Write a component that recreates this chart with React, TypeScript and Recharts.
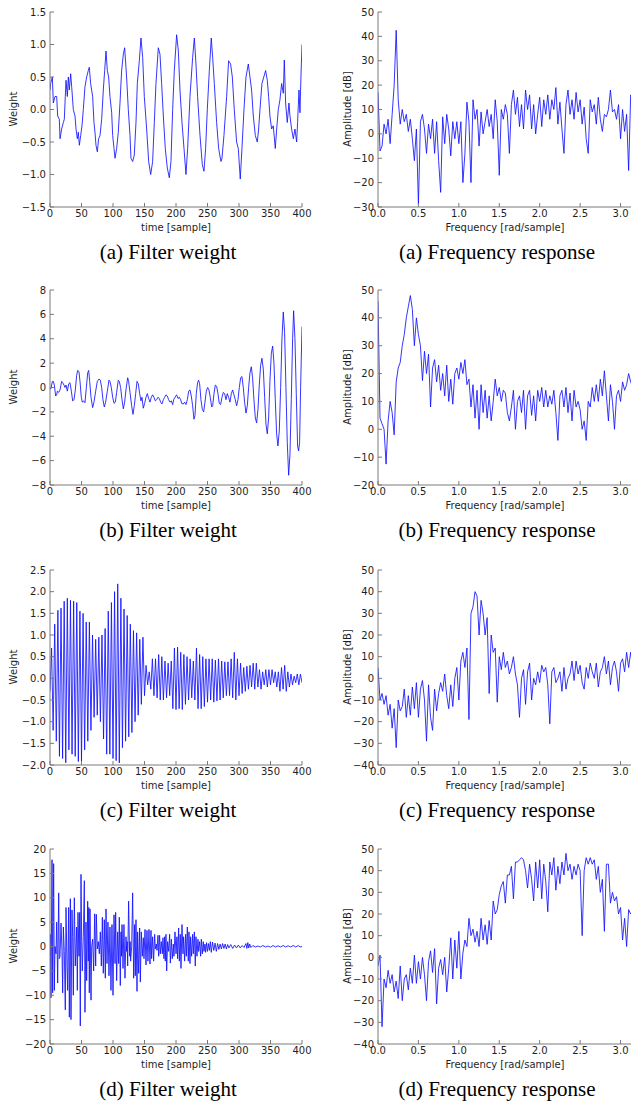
import React from 'react';
import { LineChart, Line, XAxis, YAxis } from 'recharts';

// ---------- shared axes ----------
const TIME_TICKS = [0, 50, 100, 150, 200, 250, 300, 350, 400];
const FREQ_TICKS = [0, 0.5, 1, 1.5, 2, 2.5, 3];
const W_TICKS_A = [-1.5, -1, -0.5, 0, 0.5, 1, 1.5];
const W_TICKS_B = [-8, -6, -4, -2, 0, 2, 4, 6, 8];
const W_TICKS_C = [-2, -1.5, -1, -0.5, 0, 0.5, 1, 1.5, 2, 2.5];
const W_TICKS_D = [-20, -15, -10, -5, 0, 5, 10, 15, 20];
const DB_TICKS_A = [-30, -20, -10, 0, 10, 20, 30, 40, 50];
const DB_TICKS_B = [-20, -10, 0, 10, 20, 30, 40, 50];
const DB_TICKS_CD = [-40, -30, -20, -10, 0, 10, 20, 30, 40, 50];

const CAPTION_LETTERS = ['(a)', '(b)', '(c)', '(d)'];

// ---------- (a) filter weight ----------
const aTime = [0,1,3.7,5.3,7.9,10.6,12.2,14.8,15.9,18.5,21.2,22.7,24.3,25.4,27.5,29.1,30.7,32.8,34.4,37,39.7,41.3,43.4,45,46.6,48.7,50.8,52.9,55.5,58.2,60.8,62.4,64.5,67.7,69.8,71.4,73,75.1,77.2,79.4,82,84.6,86.8,88.9,91,93.1,95.2,97.9,99.5,101.6,103.2,105.8,108.4,111.1,113.7,116.4,118.5,121.6,124.3,127,128.5,131.2,133.8,136.5,138.6,141.8,144.4,147.1,149.7,153.4,156.6,159.8,162.9,165.6,168.2,171.9,174.6,177.2,179.9,183,186.2,189.4,192,194.7,197.3,201,203.7,206.3,209.5,212.7,215.8,218.5,222.2,226.4,229.1,231.7,234.3,238.1,241.8,244.4,247,249.7,252.9,256,258.2,260.8,264.5,267.7,271.4,273,276.1,280.4,283.5,286.7,289.4,292.5,296.2,298.9,302,304.7,307.9,311.1,314.8,317.4,320,322.7,325.9,329,331.2,333.3,336.4,342.3,344.9,347,349.1,351.8,354.4,357.6,359.8,362.4,365,367.7,370.3,371.9,374,376.6,379.3,380.9,383.5,386.2,388.8,391.5,393,395.2,396.8,398.3,400];
const aWeight = [0.3,0.4,0.5,0.1,0.2,0.2,-0.1,-0.15,-0.45,-0.3,-0.2,-0.15,0.2,0.45,0.2,0.5,0.3,0.55,0.35,0,-0.1,-0.3,-0.45,-0.35,-0.55,-0.4,-0.25,0,0.35,0.5,0.6,0.65,0.4,0.2,-0.2,-0.35,-0.55,-0.65,-0.45,-0.4,-0.15,0.3,0.6,0.9,0.6,0.5,0.2,-0.05,-0.4,-0.6,-0.75,-0.6,-0.35,0.1,0.6,0.85,0.95,0.5,0,-0.4,-0.75,-0.8,-0.7,-0.2,0.4,0.75,1.1,0.8,0.2,-0.3,-0.8,-1,-0.8,-0.2,0.4,0.95,0.85,0.4,-0.1,-0.6,-0.9,-1.05,-0.8,0,0.6,1.15,0.9,0.3,-0.2,-0.6,-1,-0.6,0.2,0.8,1.1,0.7,0.2,-0.4,-0.85,-0.95,-0.6,0,0.6,1.1,0.8,0.4,-0.2,-0.6,-0.8,-0.75,-0.4,0.2,0.75,0.7,0.5,0,-0.5,-0.6,-1.07,-0.6,0,0.5,0.7,0.5,0.3,-0.1,-0.4,-0.5,-0.3,0,0.4,0.6,0.45,0.2,-0.1,-0.3,-0.25,-0.6,-0.3,0,0.15,0.4,0.25,0.76,0.1,-0.2,0.1,-0.1,-0.3,-0.45,-0.3,-0.5,-0.2,0.3,-0.05,0.5,1];

// ---------- (b) filter weight ----------
const bTime = [0,1.6,3.7,5.3,6.9,9,10.6,11.6,13.8,15.9,18.5,20.1,22.2,23.8,25.4,27.5,29.6,31.7,33.9,36,38.1,40.2,42.3,43.9,46,47.6,49.7,51.3,53.4,55.5,57.7,59.8,61.4,63,65.1,67.7,69.8,72.5,75.1,77.8,79.9,82,84.1,86.2,88.3,91,93.6,95.2,97.3,99.5,101.6,103.7,105.8,108.4,110,112.1,114.3,116.4,118.5,120.6,123.3,124.8,127,129.6,131.7,133.8,136,138.1,140.2,142.3,144.4,146,148.1,150.2,152.4,154.5,156.6,158.7,160.8,162.9,165,167.2,169.3,171.4,173.5,175.6,177.7,179.9,182,184.1,186.2,188.3,190.4,192.6,194.7,196.3,198.4,201,203.1,205.3,207.4,209,211.6,213.7,215.8,218,220.1,222.2,224.3,226.4,228.5,230.1,232.2,234.3,235.9,237.5,239.6,241.8,243.9,246,248.1,250.2,252.3,254.4,256.6,258.2,260.3,262.4,264.5,266.6,268.7,270.8,273,275.1,277.2,279.3,281.4,283.5,285.7,287.8,289.9,292,294.1,296.2,298.4,300.5,302.6,304.7,306.8,308.9,311.1,313.2,315.3,317.4,319.5,321.6,323.7,325.9,328,330.1,332.2,334.3,336.4,338.6,340.7,342.8,344.9,347,349.1,351.3,353.4,355.5,357.6,359.7,361.8,364,366.1,368.2,370.3,372.4,374.5,376.6,378.8,380.9,383,385.1,386.7,388.8,390.9,393,394.6,396.2,397.8,400];
const bWeight = [-0.1,-0.1,0.5,0.5,0.2,-0.7,-0.6,-0.3,-0.4,-0.2,0.5,0.4,0.2,0,0.2,-0.3,0.3,0.4,-0.3,-1.1,-1,-0.2,1,1.4,1.3,0.5,-0.8,-1.2,-1.1,-1.25,0,1.2,1.4,0.5,-0.8,-1.65,-1.2,-0.3,0.5,0.7,0.6,0,-1,-1.6,-1.2,-0.3,0.6,0.5,0,-0.8,-1.3,-1.2,-0.4,0.6,0.5,0,-1,-1.75,-1.2,-0.2,0.8,0.5,-0.4,-1.5,-2.2,-1.5,-0.5,0.5,0.3,-0.5,-1.1,-0.8,-1.7,-1.3,-0.8,-0.5,-0.9,-1.2,-0.8,-0.6,-0.8,-1.1,-1,-0.8,-0.9,-1.2,-1.35,-1,-0.8,-0.6,-0.7,-1,-1.2,-1.1,-1.4,-1,-0.8,-0.6,-0.9,-0.8,-1,-1.3,-1.35,-1.2,-1.4,-1,-0.3,-0.2,-0.7,-1.5,-2.6,-2.3,-0.5,0.4,0.6,0.3,-1,-1.8,-2,-1.2,-0.3,0,-0.2,-0.8,-1.6,-1.5,-0.5,0.2,0.1,-0.5,-1.3,-1.4,-0.8,-0.4,-0.5,-1,-0.5,-0.8,-1.2,-0.5,-0.2,-0.6,-1,-1.5,-1,0,0.8,0.9,0,-1.2,-2.1,-1.5,0,1.2,1.7,0.8,-1,-2.5,-2.9,-1.8,0.2,1.8,2.4,1.5,-0.8,-3,-3.8,-2.5,0.5,2.8,3.4,2,-1,-3.8,-4.8,-3.5,0,4,6.2,4.5,0,-4.5,-7.2,-5.5,-1,4,6.3,4,-0.5,-4.8,-5.2,-4.5,0,5];

// ---------- (c) filter weight ----------
const cTime = [0,2.5,5,7.5,10,12.5,15,17.5,20,22.5,25,27.5,30,32.5,35,37.5,40,42.5,45,47.5,
50,52.5,55,57.5,60,62.5,65,67.5,70,72.5,75,77.5,80,82.5,85,87.5,90,92.5,95,97.5,
100,102.5,105,107.5,110,112.5,115,117.5,120,122.5,125,127.5,130,132.5,135,137.5,140,142.5,145,147.5,
150,152.5,155,157.5,160,162.5,165,167.5,170,172.5,175,177.5,180,182.5,185,187.5,190,192.5,195,197.5,
200,202.5,205,207.5,210,212.5,215,217.5,220,222.5,225,227.5,230,232.5,235,237.5,240,242.5,245,247.5,
250,252.5,255,257.5,260,262.5,265,267.5,270,272.5,275,277.5,280,282.5,285,287.5,290,292.5,295,297.5,
300,302.5,305,307.5,310,312.5,315,317.5,320,322.5,325,327.5,330,332.5,335,337.5,340,342.5,345,347.5,
350,352.5,355,357.5,360,362.5,365,367.5,370,372.5,375,377.5,380,382.5,385,387.5,390,392.5,395,397.5,400];
const cWeight = [-0.3,
0.7,-1.2,1.25,-1.45,1.57,-1.8,1.62,-1.85,1.78,-1.95,1.85,-1.65,1.8,-1.75,1.78,-1.8,1.75,-1.92,1.55,-1.92,
1.5,-1.65,1.3,-1.45,1.3,-1.2,1,-0.9,0.9,-0.85,0.95,-1,1,-1.4,1.15,-1.75,1.55,-1.75,1.75,-1.85,
2,-1.9,2.18,-1.95,1.85,-1.6,1.6,-1.45,1.45,-1.35,1.25,-1.25,1.1,-1,1.05,-0.85,0.9,-0.6,0.95,-0.4,
0.3,-0.15,0.15,-0.25,0.45,-0.4,0.45,-0.45,0.55,-0.5,0.5,-0.5,0.4,-0.45,0.35,-0.4,0.4,-0.7,0.7,-0.72,
0.72,-0.7,0.6,-0.72,0.55,-0.6,0.5,-0.5,0.45,-0.45,0.4,-0.5,0.7,-0.7,0.55,-0.7,0.5,-0.65,0.45,-0.55,
0.45,-0.5,0.45,-0.55,0.42,-0.52,0.45,-0.5,0.4,-0.45,0.38,-0.4,0.38,-0.4,0.45,-0.45,0.6,-0.5,0.45,-0.4,
0.35,-0.35,0.25,-0.3,0.28,-0.25,0.3,-0.2,0.35,-0.25,0.35,-0.2,0.2,-0.25,0.15,-0.15,0.2,-0.2,0.2,-0.15,
0.2,-0.1,0.15,-0.2,0.15,-0.3,0.25,-0.25,0.3,-0.3,0.15,-0.2,0.1,-0.15,0.05,-0.1,0.1,-0.15,0.1,-0.1];

// ---------- (d) filter weight ----------
const dTime = [0,0.5,1.6,3.2,4.2,5.8,6.9,7.9,9.5,10.6,
12.2,13.8,14.8,15.9,17.5,19,20.1,21.2,22.7,24.3,
25.4,27,28,29.6,30.7,32.3,33.3,34.9,36,37,
38.6,40.2,42.3,43.4,44.4,46,47.1,48.1,49.2,50.3,
51.3,52.9,54.5,55.5,57.1,58.2,59.8,60.8,61.6,62.4,
63.5,65.1,66.1,67.7,69.3,70.9,72.5,73.5,75.1,76.7,
78.3,79.9,81.5,83.1,84.6,86.2,87.8,88.9,90.5,92,
93.6,95.2,96.8,98.4,100,101.6,103.2,104.2,105.8,107.4,
109,110,111.6,112.7,113.5,114.3,115.9,117.4,119,120.6,
121.7,122.5,123.3,124.8,126.4,127.2,128,129.6,131.2,132.8,
134.4,135.4,136.5,138.1,139.1,140.7,142.3,143.4,144.9,146.5,
148.1,149.2,150.8,152.4,153.9,155.5,157.1,158.7,160.3,161.3,
162.9,164.5,166.1,167.2,168.8,169.8,171.4,172.5,174,175.1,
176.7,178.3,179.3,180.9,182,183,184.1,185.2,186.7,188.3,
189.9,191,192.6,194.1,195.7,196.8,198.4,200,201.5,202.6,
204.2,205.3,206.8,207.9,209.5,211.1,212.1,213.7,215.3,216.4,
218,219.5,220.6,222.2,223.2,224.8,226.4,227.5,229.1,230.6,
231.7,233.3,234.9,235.9,237.5,239.1,240.2,241.8,243.3,244.4,
246,247,248.5,250,251.5,253,254.5,256,258,260,
262,264,266,268,270,272,274,276,278,280,
282,284,287,290,293,296,299,302,305,308,
311,312.5,314,315.5,317,319,322,326,330,334,
338,342,346,350,354,358,362,366,370,374,
378,382,386,390,394,397,400];
const dWeight = [0,2.5,-10.5,17.8,-9.5,17,-9,0,-1.5,5,
-7.5,11,-2.5,-2,4.8,-1,-9.5,4,-1,-13,
8,-4,-9,8,-14.5,9.8,-15,7.5,2,-10,
10,-4,4,-9,7,-2,7,-16.3,14.8,1,
-5,2,13.5,-13.5,5,-7,9.3,-3,8,-9.5,
7.7,-11,0,1.5,-5,6.7,-4,6.6,-0.5,1,
-1.5,3,-4,6,-5.5,5.5,-6.5,7.7,-3.5,5,
-6,4,-9,4.5,-10,6.5,-3.5,7,-7,3,
-3.5,6,-8,3,-2,4.5,-4.5,4.5,-6.5,2,
-1,1,-4,9.3,-2,1,-3,0,11,-6.5,
4.5,-6,5.5,-9.2,3,-5.5,3.8,-7.3,3,-2,
1.8,-2.5,3.5,-3.8,3.3,-3,3.5,-3.6,3.3,-2.5,
2,-3,2.5,-0.5,0.5,-0.8,2.3,-2,2.3,-1.5,
1,-1.5,1.8,-2.5,2,-3,2.5,-5,1,-1,
2.5,-3.4,1.5,-2.5,0.5,-2,3,-1.5,2,-2.5,
3.8,-3,2.5,-4.5,4.5,-1.5,2,-3,2.5,-2,
4,-3,3,-3.5,2,-2,2.5,-1.5,3,-4,
2,-2,1.5,-1,1,-2,1.5,-1.5,1,-1,
0.5,-1.2,0.8,-1,0.6,-0.8,1,-1.2,0.9,-0.8,
0.7,-1,0.6,-0.6,0.5,-0.5,0.6,-0.4,0.5,-0.5,
0.4,-0.3,0.4,-0.4,0.3,-0.3,0.3,-0.3,0.2,-0.2,
0.6,-0.4,0.8,-0.3,0.5,-0.2,0.2,-0.1,0.1,-0.1,
0.2,-0.1,0.1,-0.15,0.2,-0.1,0.15,-0.1,0.2,-0.1,
0.15,-0.1,0.2,-0.1,0.2,-0.1,0];

// ---------- frequency responses (shared frequency bins, rad/sample) ----------
const FREQS = [0,0.025,0.05,0.075,0.1,0.125,0.15,0.175,0.2,0.225,
0.25,0.275,0.3,0.325,0.35,0.375,0.4,0.425,0.45,0.475,
0.5,0.525,0.55,0.575,0.6,0.625,0.65,0.675,0.7,0.725,
0.75,0.775,0.8,0.825,0.85,0.875,0.9,0.925,0.95,0.975,
1,1.025,1.05,1.075,1.1,1.125,1.15,1.175,1.2,1.225,
1.25,1.275,1.3,1.325,1.35,1.375,1.4,1.425,1.45,1.475,
1.5,1.525,1.55,1.575,1.6,1.625,1.65,1.675,1.7,1.725,
1.75,1.775,1.8,1.825,1.85,1.875,1.9,1.925,1.95,1.975,
2,2.025,2.05,2.075,2.1,2.125,2.15,2.175,2.2,2.225,
2.25,2.275,2.3,2.325,2.35,2.375,2.4,2.425,2.45,2.475,
2.5,2.525,2.55,2.575,2.6,2.625,2.65,2.675,2.7,2.725,
2.75,2.775,2.8,2.825,2.85,2.875,2.9,2.925,2.95,2.975,
3,3.025,3.05,3.075,3.1,3.125,3.14];

const aAmp = [17,-7,-5,4,0,6,-4,8,20,42.5,
14,4,10,5,8,1,6,-2,-11,2,
-29,5,8,2,-8,4,-2,6,-8,5,
-11,-24,7,-4,8,2,-9,5,-2,5,
-4,5,-20,-8,13,5,-20,14,6,10,
-5,9,0,5,10,3,8,-2,14,5,
-17,10,6,12,8,-8,12,18,8,15,
3,12,2,18,10,16,2,12,0,8,
15,3,14,8,16,6,14,10,19,4,
13,2,-8,12,18,8,14,6,17,9,
14,4,11,-2,-8,14,9,12,4,15,
6,1,8,7,10,18,9,10,6,12,
-2,10,1,8,-15,16,15];

const bAmp = [46,4,2,0,-12.5,3,10,6,-2,17,
22,24,30,34,40,44,48,43,30,40,
34,30,17.5,28,20,27,8,22,25,17,
23,14,20,12,23,10,18,9,20,22,
18,24,20,25,16,18,8,16,4,14,
0,16,6,14,4,12,3,10,18,12,
15,10,14,13,6,3,8,14,0,10,
12,6,14,0,12,14,5,12,3,14,
10,15,8,14,8,12,9,14,6,-4,
12,14,8,15,6,13,3,14,8,10,
7,0,3,-4,10,8,15,10,16,10,
18,12,21,12,3,16,10,0,12,14,
10,17,14,16,20,17,16];

const cAmp = [5,-10,-7,-12,-8,-17,-12,-23,-14,-32,
-10,-15,-13,-5,-18,-8,-17,-4,-14,-2,
-18,-5,-1,-10,-29,-3,-18,-24,-5,-15,
-7,-2,-6,2,-8,-14,-3,-13,0,5,
-10,8,12,5,14,-19,30,33,40,38,
20,36,30,20,28,-7,20,12,14,-11,
10,4,12,5,8,2,5,10,2,-3,
-18,0,4,-12,3,7,-10,0,-3,3,
-2,6,3,5,-3,-21,3,5,-2,0,
3,-6,5,-5,0,2,8,-1,8,2,
6,-2,-5,5,0,7,3,0,7,-4,
3,5,10,2,8,-3,5,8,3,-6,
7,9,3,12,5,12,8];

const dAmp = [-4,1,-32,-10,-14,-6,-12,-8,-16,-11,
-19,-4,-20,-10,-8,-15,-5,-12,1,-12,
-2,-10,0,-8,-20,-2,3,-7,4,-21.5,
-5,-1,-8,0,-16,-5,9,-10,8,-5,
12,-10,2,8,5,18,10,13,7,12,
5,18,8,15,6,17,8,26,20,22,
29,33,35,25,38,38,42,27,44,44,
45,46,45,40,32,43,36,26,44,32,
45,27,43,35,21,44,38,46,31,42,
34,44,38,48,40,43,36,42,38,43,
40,10,40,46,43,46,43,45,36,42,
30,36,12,43,43,25,30,26,28,20,
23,8,18,5,22,20,21];

// ---------- styling ----------
const SANS = '"DejaVu Sans", Verdana, sans-serif';
const SERIF = '"Liberation Serif", "Times New Roman", serif';
const SPINE = '#7a7a7a';
const TXT = '#1e1e1e';
const BLUE = '#1010ff';

const ROW_TOPS = [12, 290, 570, 849];
const PLOT_H = 195;
const TOP_PAD = 10;
const X_AXIS_H = 30;

const fmt = (v: number, d: number) => {
  const s = Math.abs(v).toFixed(d);
  return v < 0 ? '\u2212' + s : s;
};

const rows = (xs: number[], ys: number[]) => xs.map((x, i) => ({ x, y: ys[i] }));

function bottomTick(digits: number) {
  return (p: any) => (
    <g>
      <line x1={p.x} x2={p.x} y1={p.y} y2={p.y - 4} stroke={SPINE} strokeWidth={1} />
      <text x={p.x} y={p.y + 10} textAnchor="middle" fontSize={10} fontFamily={SANS} fill={TXT}>
        {fmt(p.payload.value, digits)}
      </text>
    </g>
  );
}
function leftTick(digits: number) {
  return (p: any) => (
    <g>
      <line x1={p.x} x2={p.x + 4} y1={p.y} y2={p.y} stroke={SPINE} strokeWidth={1} />
      <text x={p.x - 4} y={p.y + 3.6} textAnchor="end" fontSize={10} fontFamily={SANS} fill={TXT}>
        {fmt(p.payload.value, digits)}
      </text>
    </g>
  );
}
const topTick = (p: any) => (
  <line x1={p.x} x2={p.x} y1={p.y} y2={p.y + 4} stroke={SPINE} strokeWidth={1} />
);
const rightTick = (p: any) => (
  <line x1={p.x} x2={p.x - 4} y1={p.y} y2={p.y} stroke={SPINE} strokeWidth={1} />
);

type PanelProps = {
  left: number;
  top: number;
  width: number;
  rightPad: number;
  axisW: number;
  data: { x: number; y: number }[];
  xDomain: [number, number];
  xTicks: number[];
  xDigits: number;
  yDomain: [number, number];
  yTicks: number[];
  yDigits: number;
};

function Panel(p: PanelProps) {
  const axisCommon = { axisLine: { stroke: SPINE, strokeWidth: 1 }, tickLine: false, tickSize: 0, tickMargin: 0, interval: 0 as const, allowDataOverflow: true };
  return (
    <div style={{ position: 'absolute', left: p.left, top: p.top - TOP_PAD }}>
      <LineChart width={p.width} height={TOP_PAD + PLOT_H + X_AXIS_H} data={p.data} margin={{ top: TOP_PAD, right: p.rightPad, bottom: 0, left: 0 }}>
        <XAxis xAxisId="b" dataKey="x" type="number" domain={p.xDomain} ticks={p.xTicks} height={X_AXIS_H} tick={bottomTick(p.xDigits)} {...axisCommon} />
        <XAxis xAxisId="t" orientation="top" dataKey="x" type="number" domain={p.xDomain} ticks={p.xTicks} height={0} tick={topTick} {...axisCommon} />
        <YAxis yAxisId="l" type="number" domain={p.yDomain} ticks={p.yTicks} width={p.axisW} tick={leftTick(p.yDigits)} {...axisCommon} />
        <YAxis yAxisId="r" orientation="right" type="number" domain={p.yDomain} ticks={p.yTicks} width={0} tick={rightTick} {...axisCommon} />
        <Line xAxisId="b" yAxisId="l" type="linear" dataKey="y" stroke={BLUE} strokeWidth={0.85} dot={false} activeDot={false} isAnimationActive={false} />
      </LineChart>
    </div>
  );
}

const weightPanels = [
  { data: rows(aTime, aWeight), yDomain: [-1.5, 1.5] as [number, number], yTicks: W_TICKS_A, yDigits: 1 },
  { data: rows(bTime, bWeight), yDomain: [-8, 8] as [number, number], yTicks: W_TICKS_B, yDigits: 0 },
  { data: rows(cTime, cWeight), yDomain: [-2, 2.5] as [number, number], yTicks: W_TICKS_C, yDigits: 1 },
  { data: rows(dTime, dWeight), yDomain: [-20, 20] as [number, number], yTicks: W_TICKS_D, yDigits: 0 },
];
const freqPanels = [
  { data: rows(FREQS, aAmp), yDomain: [-30, 50] as [number, number], yTicks: DB_TICKS_A },
  { data: rows(FREQS, bAmp), yDomain: [-20, 50] as [number, number], yTicks: DB_TICKS_B },
  { data: rows(FREQS, cAmp), yDomain: [-40, 50] as [number, number], yTicks: DB_TICKS_CD },
  { data: rows(FREQS, dAmp), yDomain: [-40, 50] as [number, number], yTicks: DB_TICKS_CD },
];

export default function App() {
  return (
    <div style={{ position: 'absolute', left: 0, top: 0, width: 631, height: 1101, overflow: 'hidden', background: '#fff' }}>
      {weightPanels.map((w, i) => (
        <Panel key={'w' + i} left={0} top={ROW_TOPS[i]} width={320} rightPad={18} axisW={50} data={w.data}
          xDomain={[0, 400]} xTicks={TIME_TICKS} xDigits={0} yDomain={w.yDomain} yTicks={w.yTicks} yDigits={w.yDigits} />
      ))}
      {freqPanels.map((f, i) => (
        <Panel key={'f' + i} left={320} top={ROW_TOPS[i]} width={320} rightPad={8} axisW={58} data={f.data}
          xDomain={[0, Math.PI]} xTicks={FREQ_TICKS} xDigits={1} yDomain={f.yDomain} yTicks={f.yTicks} yDigits={0} />
      ))}
      <svg width={631} height={1101} style={{ position: 'absolute', left: 0, top: 0, pointerEvents: 'none' }}>
        {ROW_TOPS.map((t, i) => (
          <g key={'lab' + i}>
            <text x={13} y={t + 97} transform={`rotate(-90 13 ${t + 97})`} textAnchor="middle" dominantBaseline="central" fontSize={10} fontFamily={SANS} fill={TXT}>Weight</text>
            <text x={176} y={t + 215} textAnchor="middle" dominantBaseline="central" fontSize={10} fontFamily={SANS} fill={TXT}>time [sample]</text>
            <text x={347} y={t + 97} transform={`rotate(-90 347 ${t + 97})`} textAnchor="middle" dominantBaseline="central" fontSize={10} fontFamily={SANS} fill={TXT}>Amplitude [dB]</text>
            <text x={505} y={t + 215} textAnchor="middle" dominantBaseline="central" fontSize={10} fontFamily={SANS} fill={TXT}>Frequency [rad/sample]</text>
            <text x={168} y={t + 247} textAnchor="middle" fontSize={21} fontFamily={SERIF} fill="#000">{CAPTION_LETTERS[i]} Filter weight</text>
            <text x={497} y={t + 247} textAnchor="middle" fontSize={21} fontFamily={SERIF} fill="#000">{CAPTION_LETTERS[i]} Frequency response</text>
          </g>
        ))}
      </svg>
    </div>
  );
}
